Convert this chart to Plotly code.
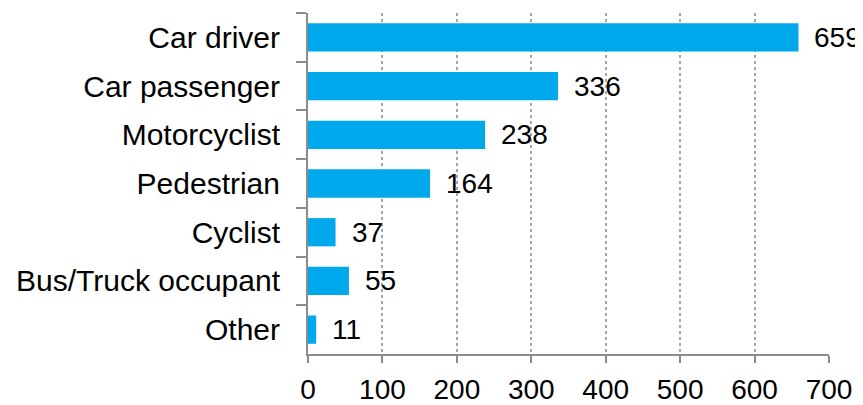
import plotly.graph_objects as go

categories = ["Car driver", "Car passenger", "Motorcyclist", "Pedestrian",
              "Cyclist", "Bus/Truck occupant", "Other"]
values = [659, 336, 238, 164, 37, 55, 11]
x_ticks = [0, 100, 200, 300, 400, 500, 600, 700]

FONT = "Liberation Sans, Arial, sans-serif"
AXIS_GREY = "#8c8c8c"

fig = go.Figure()
fig.add_trace(go.Bar(
    x=values, y=categories, orientation="h",
    marker=dict(color="#00A9EC", line=dict(width=0)),
    hoverinfo="x+y",
))

for c, v in zip(categories, values):
    fig.add_annotation(x=v, y=c, text=str(v), showarrow=False,
                       xanchor="left", xshift=14,
                       font=dict(family=FONT, size=28, color="#000000"))

# page body has an 8px default margin, so the figure is sized to compensate
fig.update_layout(
    width=855, height=397,
    margin=dict(l=300, r=34, t=5, b=51, autoexpand=False),
    paper_bgcolor="white", plot_bgcolor="white",
    bargap=0.42,
    showlegend=False,
    font=dict(family=FONT, size=28, color="#000000"),
)
fig.update_xaxes(
    range=[0, 700], tickvals=x_ticks, automargin=False,
    showgrid=True, gridcolor="#a6a6a6", gridwidth=1.5, griddash="dot",
    showline=True, linecolor=AXIS_GREY, linewidth=2,
    ticks="outside", ticklen=7, tickcolor=AXIS_GREY, tickwidth=2,
    ticklabelstandoff=2,
    zeroline=False,
    tickfont=dict(family=FONT, size=28, color="#000000"),
)
fig.update_yaxes(
    categoryorder="array", categoryarray=categories, autorange="reversed",
    automargin=False,
    showgrid=False,
    showline=True, linecolor=AXIS_GREY, linewidth=2,
    ticks="outside", ticklen=10, tickcolor=AXIS_GREY, tickwidth=2,
    tickson="boundaries",
    ticklabelstandoff=20,
    tickfont=dict(family=FONT, size=30, color="#000000"),
)

fig.write_html("out.html")
